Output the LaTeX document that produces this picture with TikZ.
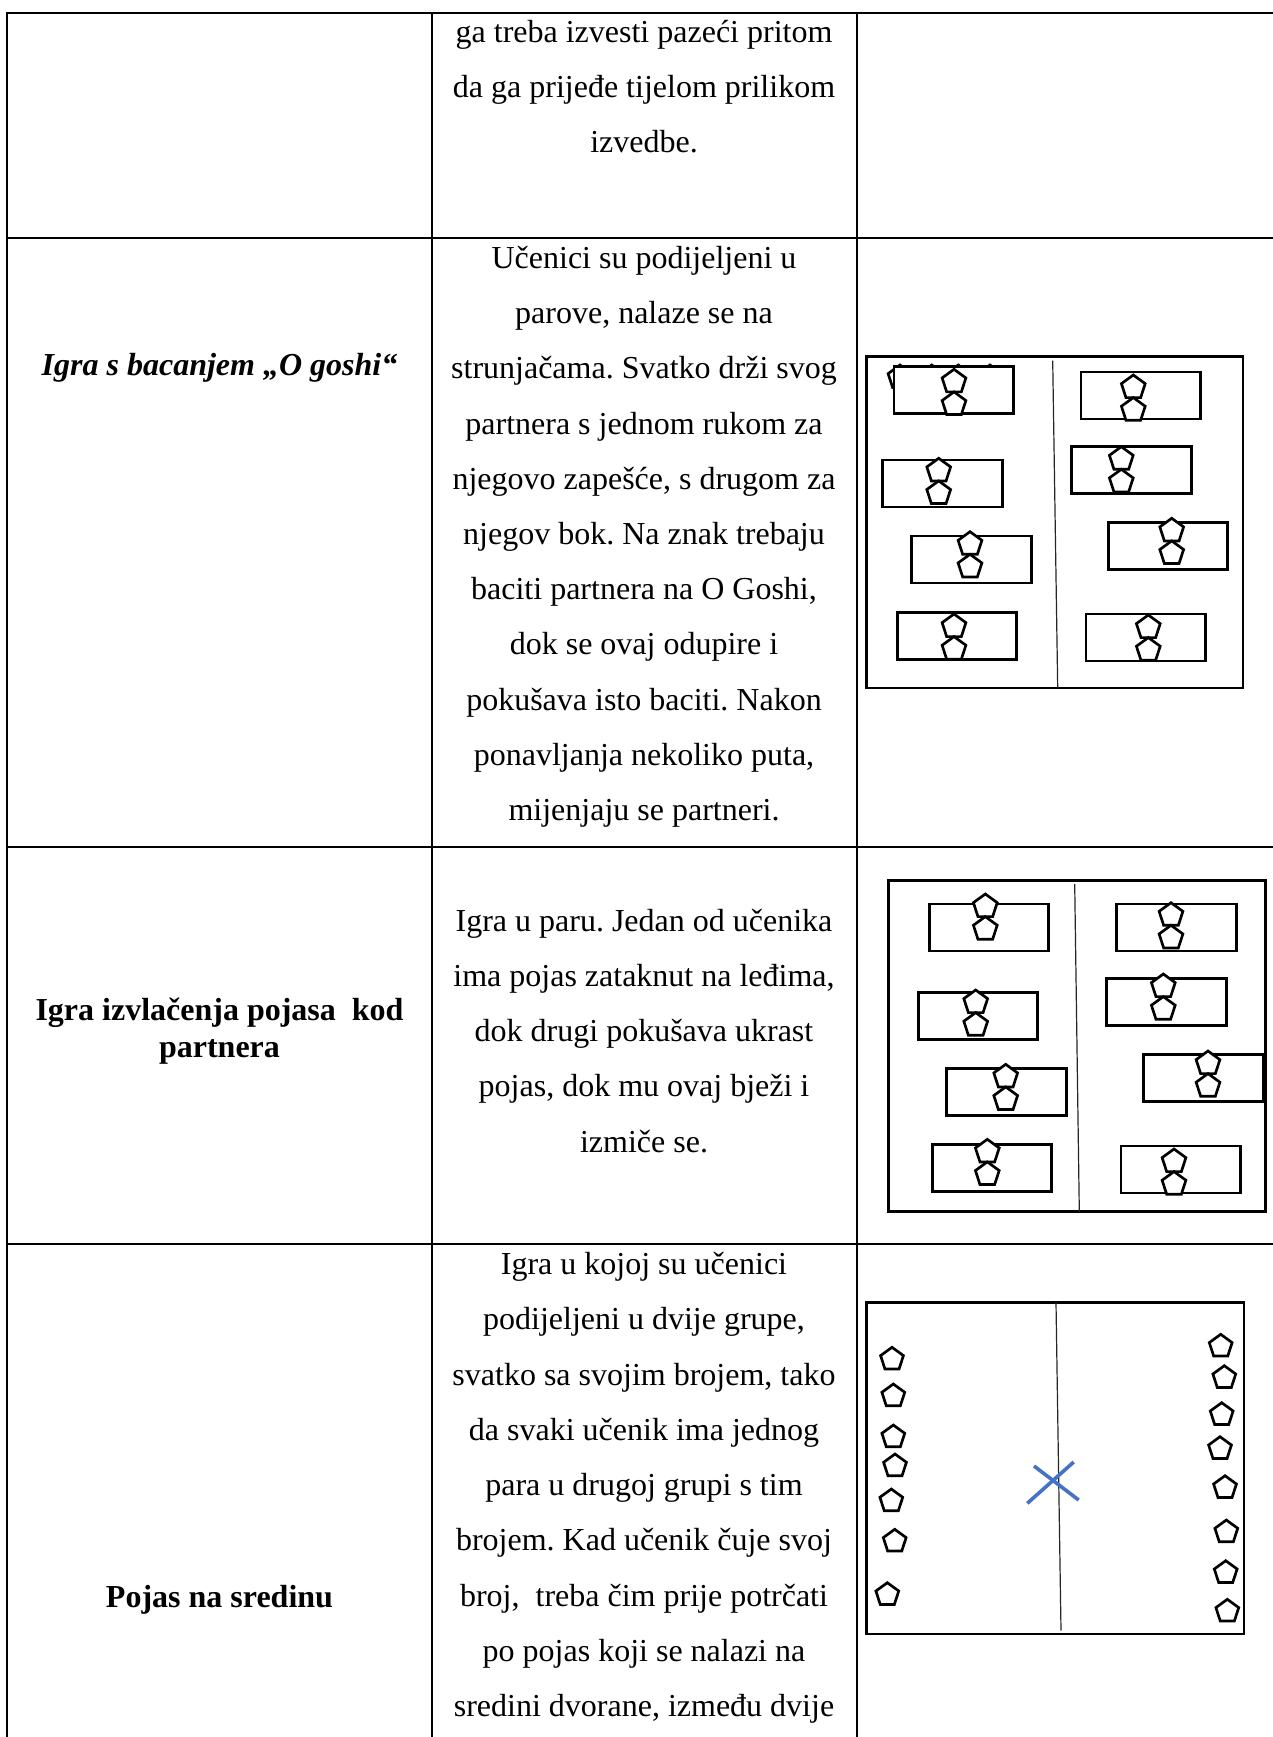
\documentclass[tikz,border=0pt]{standalone}
\usepackage{fontspec}
\setmainfont{Liberation Serif}
\frenchspacing
\newcommand\mypent[3]{% cx, apex y, radius
  \draw[pentline] ([shift={(#1,#2+#3)}]270:#3) -- ([shift={(#1,#2+#3)}]342:#3) -- ([shift={(#1,#2+#3)}]54:#3) -- ([shift={(#1,#2+#3)}]126:#3) -- ([shift={(#1,#2+#3)}]198:#3) -- cycle;}
\newcommand\mymat[4]{% left, top, pent cx, pent apex
  \draw[mat] (#1,#2) rectangle ++(119.5,47);
  \mypent{#3}{#4}{12.5}\mypent{#3}{#4+22.6}{12.5}}
\begin{document}
\begin{tikzpicture}[x=0.375pt,y=-0.375pt,
  grid/.style={line width=0.65pt},
  txt/.style={anchor=base,inner sep=0,font=\fontsize{12}{14}\selectfont},
  ttl/.style={anchor=base,inner sep=0,font=\fontsize{12}{14}\selectfont\bfseries},
  court/.style={line width=1pt},
  midline/.style={line width=0.45pt,black!85},
  mat/.style={line width=1pt,fill=white},
  pentline/.style={line width=1pt,fill=white,line join=miter},
  cross/.style={line width=1.35pt,color=crossblue}]
\definecolor{crossblue}{HTML}{4472C4}
\useasboundingbox (0,0) rectangle (1273,1737);
% table grid
\draw[grid] (7,1737) -- (7,13) -- (1273,13);
\draw[grid] (432,13) -- (432,1737);
\draw[grid] (857,13) -- (857,1737);
\draw[grid] (7,238) -- (1273,238);
\draw[grid] (7,847) -- (1273,847);
\draw[grid] (7,1244) -- (1273,1244);
\begin{scope}[shift={(0,3)}]
% row 1
\node[txt] (r1a) at (644,40) {ga treba izvesti pazeći pritom};
\node[txt] (r1b) at (644,95) {da ga prijeđe tijelom prilikom};
\node[txt] (r1c) at (644,150) {izvedbe.};
% row 2
\node[ttl,font=\fontsize{12}{14}\selectfont\bfseries\itshape] (t2) at (219.5,372) {Igra s bacanjem „O goshi“};
\node[txt] (r2a) at (644,265.5) {Učenici su podijeljeni u};
\node[txt] (r2b) at (644,320.7) {parove, nalaze se na};
\node[txt] (r2c) at (644,375.9) {strunjačama. Svatko drži svog};
\node[txt] (r2d) at (644,431.1) {partnera s jednom rukom za};
\node[txt] (r2e) at (644,486.3) {njegovo zapešće, s drugom za};
\node[txt] (r2f) at (644,541.5) {njegov bok. Na znak trebaju};
\node[txt] (r2g) at (644,596.7) {baciti partnera na O Goshi,};
\node[txt] (r2h) at (644,651.9) {dok se ovaj odupire i};
\node[txt] (r2i) at (644,707.1) {pokušava isto baciti. Nakon};
\node[txt] (r2j) at (644,762.3) {ponavljanja nekoliko puta,};
\node[txt] (r2k) at (644,817.5) {mijenjaju se partneri.};
% row 3
\node[ttl] (t3a) at (219.5,1017.6) {Igra izvlačenja pojasa\ \ kod};
\node[ttl] (t3b) at (219.5,1054.6) {partnera};
\node[txt] (r3a) at (644,928.3) {Igra u paru. Jedan od učenika};
\node[txt] (r3b) at (644,983.5) {ima pojas zataknut na leđima,};
\node[txt] (r3c) at (644,1038.7) {dok drugi pokušava ukrast};
\node[txt] (r3d) at (644,1093.9) {pojas, dok mu ovaj bježi i};
\node[txt] (r3e) at (644,1149.1) {izmiče se.};
% row 4
\node[ttl] (t4) at (219.5,1604) {Pojas na sredinu};
\node[txt] (r4a) at (644,1271.6) {Igra u kojoj su učenici};
\node[txt] (r4b) at (644,1326.85) {podijeljeni u dvije grupe,};
\node[txt] (r4c) at (644,1382.1) {svatko sa svojim brojem, tako};
\node[txt] (r4d) at (644,1437.35) {da svaki učenik ima jednog};
\node[txt] (r4e) at (644,1492.6) {para u drugoj grupi s tim};
\node[txt] (r4f) at (644,1547.85) {brojem. Kad učenik čuje svoj};
\node[txt] (r4g) at (644,1603.1) {broj,\ \ treba čim prije potrčati};
\node[txt] (r4h) at (644,1658.35) {po pojas koji se nalazi na};
\node[txt] (r4i) at (644,1713.6) {sredini dvorane, između dvije};
\end{scope}
% diagram 1
\draw[court] (866.7,356.7) rectangle (1243,688);
\draw[midline] (1052.7,360.7) -- (1057.7,688);
\mypent{900}{365}{12.5}\mypent{931.7}{365}{12.5}\mypent{958.3}{365}{12.5}\mypent{990}{365}{12.5}
\mymat{894}{366.7}{954}{369.3}
\mymat{882.7}{460}{938.7}{458.3}
\mymat{911.7}{536}{970}{531.7}
\mymat{897.3}{612.3}{954}{614}
\mymat{1081}{372}{1133.3}{375}
\mymat{1071.7}{446.7}{1121.3}{446.7}
\mymat{1108.3}{522.3}{1171.7}{518.3}
\mymat{1086}{614}{1148.3}{615}
% diagram 2
\draw[court] (888.3,880.7) rectangle (1265.7,1211.7);
\draw[midline] (1074.7,884) -- (1079.3,1211.7);
\mymat{929.3}{904}{985.3}{894}
\mymat{918.3}{992.3}{975.7}{990}
\mymat{946.7}{1068.3}{1005.7}{1064.3}
\mymat{932.3}{1144.3}{987.3}{1139.3}
\mymat{1116.7}{904}{1171}{902.7}
\mymat{1106.7}{978.3}{1163.3}{974}
\mymat{1143.7}{1054.3}{1208}{1051}
\mymat{1121}{1146}{1174}{1149}
% diagram 3
\draw[court] (866.7,1302.7) rectangle (1244,1634);
\draw[midline] (1056,1302.7) -- (1061,1630.7);
\mypent{892}{1347.3}{12}
\mypent{893.3}{1384}{12}
\mypent{893.3}{1425}{12}
\mypent{895}{1454}{12}
\mypent{891.3}{1489}{12}
\mypent{894.7}{1529.3}{12}
\mypent{887.3}{1582.7}{12}
\mypent{1220.7}{1334.3}{12}
\mypent{1224.3}{1365.7}{12}
\mypent{1221.7}{1402.7}{12}
\mypent{1220}{1436.7}{12}
\mypent{1225}{1475.7}{12}
\mypent{1226.3}{1520}{12}
\mypent{1225.7}{1560.7}{12}
\mypent{1227.3}{1599.3}{12}
\draw[cross] (1034,1466) -- (1078.7,1500);
\draw[cross] (1027.3,1503.3) -- (1073.7,1462);
\end{tikzpicture}
\end{document}
